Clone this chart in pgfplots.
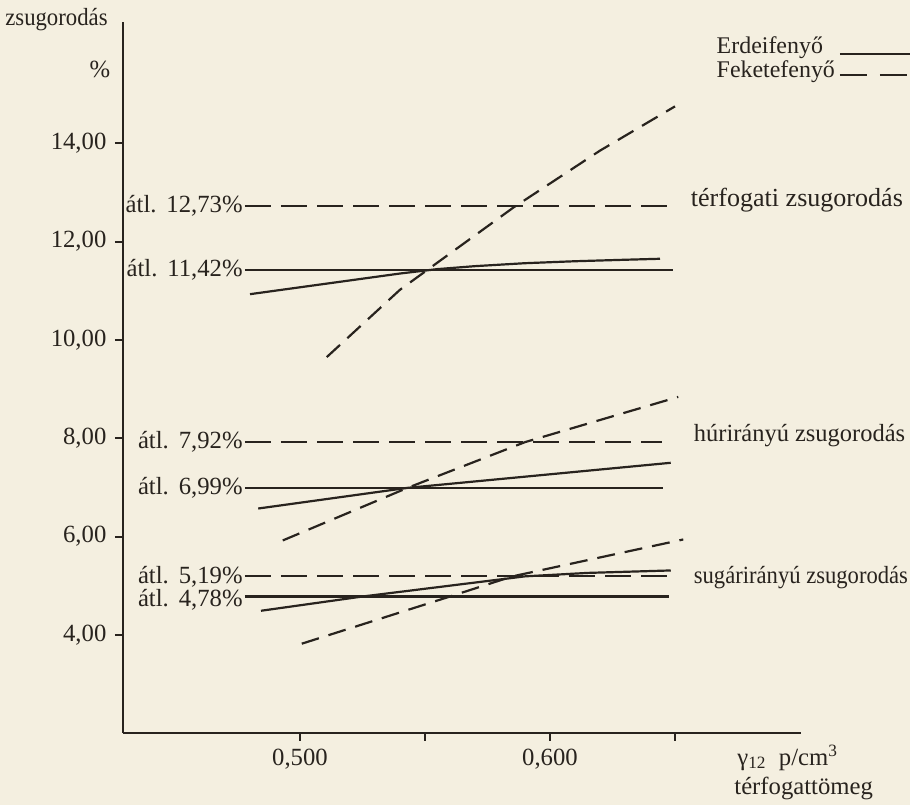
\documentclass[border=0pt]{standalone}
\usepackage{fontspec}
\setmainfont{Liberation Serif}
\usepackage{graphicx}
\usepackage{pgfplots}
\pgfplotsset{compat=1.18}
\usetikzlibrary{backgrounds}
\definecolor{ink}{RGB}{40,35,30}
\definecolor{paper}{RGB}{244,239,224}
\begin{document}
\fontsize{12.4}{14}\selectfont
\begin{tikzpicture}[font=\fontsize{12.4}{14}\selectfont]
\begin{axis}[
  scale only axis, width=339bp, height=355.5bp,
  xmin=0.4292, xmax=0.7004, ymin=2.007, ymax=16.47,
  axis lines=left, axis line style={-, line width=1.3bp, draw=ink},
  xtick={0.5,0.55,0.6,0.65}, xticklabels={{0,500},{},{0,600},{}},
  ytick={4,6,8,10,12,14}, yticklabels={{4,00},{6,00},{8,00},{10,00},{12,00},{14,00}},
  tick align=outside, major tick length=4bp,
  tick style={line width=1bp, draw=ink},
  ticklabel style={text=ink},
  /pgf/number format/assume math mode=true,
  clip=false,
  legend plot pos=right, legend cell align=left,
  legend style={draw=none, fill=none, inner sep=0pt, outer sep=0pt,
    at={(0.8757,0.9775)}, anchor=north west, column sep=2bp,
    font=\fontsize{12}{14}\selectfont,
    nodes={inner sep=0pt, text height=8bp, text depth=3.7bp, text=ink}},
]
% terfogati
\addplot[ink, line width=1.1bp,
  legend image code/.code={\draw[ink, line width=1bp] (0bp,-2bp) -- (36bp,-2bp);}]
  coordinates {(0.480,10.93) (0.500,11.07) (0.520,11.21) (0.540,11.35) (0.555,11.44)
               (0.570,11.50) (0.590,11.56) (0.610,11.60) (0.630,11.63) (0.644,11.65)};
\addlegendentry{Erdeifenyő}
\addplot[ink, line width=1.1bp, dash pattern=on 9bp off 5bp,
  legend image code/.code={\draw[ink, line width=1bp, dash pattern=on 13.5bp off 6.5bp] (0bp,-1bp) -- (34bp,-1bp);}]
  coordinates {(0.5107,9.65) (0.540,11.02) (0.5853,12.69) (0.620,13.85) (0.650,14.75)};
\addlegendentry{Feketefenyő}
% huriranyu
\addplot[ink, line width=1.1bp, forget plot]
  coordinates {(0.4833,6.57) (0.543,6.99) (0.6483,7.50)};
\addplot[ink, line width=1.1bp, dash pattern=on 9bp off 5bp, forget plot]
  coordinates {(0.4931,5.92) (0.543,6.99) (0.590,7.92) (0.6513,8.84)};
% sugariranyu
\addplot[ink, line width=1.1bp, forget plot]
  coordinates {(0.4844,4.49) (0.525,4.78) (0.590,5.19) (0.615,5.26) (0.6483,5.31)};
\addplot[ink, line width=1.1bp, dash pattern=on 9bp off 5bp, forget plot]
  coordinates {(0.5007,3.82) (0.560,4.78) (0.585,5.19) (0.6533,5.94)};
% averages
\addplot[ink, line width=1.1bp, dash pattern=on 13bp off 5bp, forget plot]
  coordinates {(0.478,12.73) (0.6472,12.73)};
\addplot[ink, line width=1.1bp, forget plot]
  coordinates {(0.478,11.42) (0.6492,11.42)};
\addplot[ink, line width=1.1bp, dash pattern=on 13bp off 5bp, forget plot]
  coordinates {(0.478,7.92) (0.6447,7.92)};
\addplot[ink, line width=1.1bp, forget plot]
  coordinates {(0.478,6.99) (0.6453,6.99)};
\addplot[ink, line width=1.1bp, dash pattern=on 13bp off 5bp, forget plot]
  coordinates {(0.478,5.19) (0.6473,5.19)};
\addplot[ink, line width=1.1bp, forget plot]
  coordinates {(0.478,4.78) (0.6477,4.78)};
% labels
\node[anchor=east, inner sep=0pt, text=ink] at (axis cs:0.4772,12.73) {átl.\hspace{0.4em}12,73\%};
\node[anchor=east, inner sep=0pt, text=ink] at (axis cs:0.4772,11.42) {átl.\hspace{0.4em}11,42\%};
\node[anchor=east, inner sep=0pt, text=ink] at (axis cs:0.4772,7.92) {átl.\hspace{0.4em}7,92\%};
\node[anchor=east, inner sep=0pt, text=ink] at (axis cs:0.4772,6.99) {átl.\hspace{0.4em}6,99\%};
\node[anchor=east, inner sep=0pt, text=ink] at (axis cs:0.4772,5.19) {átl.\hspace{0.4em}5,19\%};
\node[anchor=east, inner sep=0pt, text=ink] at (axis cs:0.4772,4.72) {átl.\hspace{0.4em}4,78\%};
\node[anchor=west, inner sep=0pt, text=ink] at (axis cs:0.6562,12.847) {\resizebox{106bp}{!}{térfogati zsugorodás}};
\node[anchor=west, inner sep=0pt, text=ink] at (axis cs:0.6574,8.047) {\scalebox{0.99}[1]{húrirányú zsugorodás}};
\node[anchor=west, inner sep=0pt, text=ink] at (axis cs:0.6574,5.159) {\scalebox{0.915}[1]{sugárirányú zsugorodás}};
\node[anchor=east, inner sep=0pt, text=ink] at (axis cs:0.4232,16.507) {\scalebox{0.92}[1]{zsugorodás}};
\node[inner sep=0pt, text=ink] at (axis cs:0.42,15.5) {\%};
\node[anchor=west, inner sep=0pt, text=ink] at (axis cs:0.6748,1.4985) {γ\textsubscript{12}\hspace{0.5em}p/cm\textsuperscript{3}};
\node[anchor=west, inner sep=0pt, text=ink] at (axis cs:0.6736,0.87) {térfogattömeg};
\coordinate (bgSW) at (axis cs:0.38,0.5426);
\coordinate (bgNE) at (axis cs:0.744,16.914);
\end{axis}
\begin{scope}[on background layer]
\fill[paper] (bgSW) rectangle (bgNE);
\end{scope}
\pgfresetboundingbox
\path[use as bounding box] (bgSW) rectangle (bgNE);
\end{tikzpicture}
\end{document}
